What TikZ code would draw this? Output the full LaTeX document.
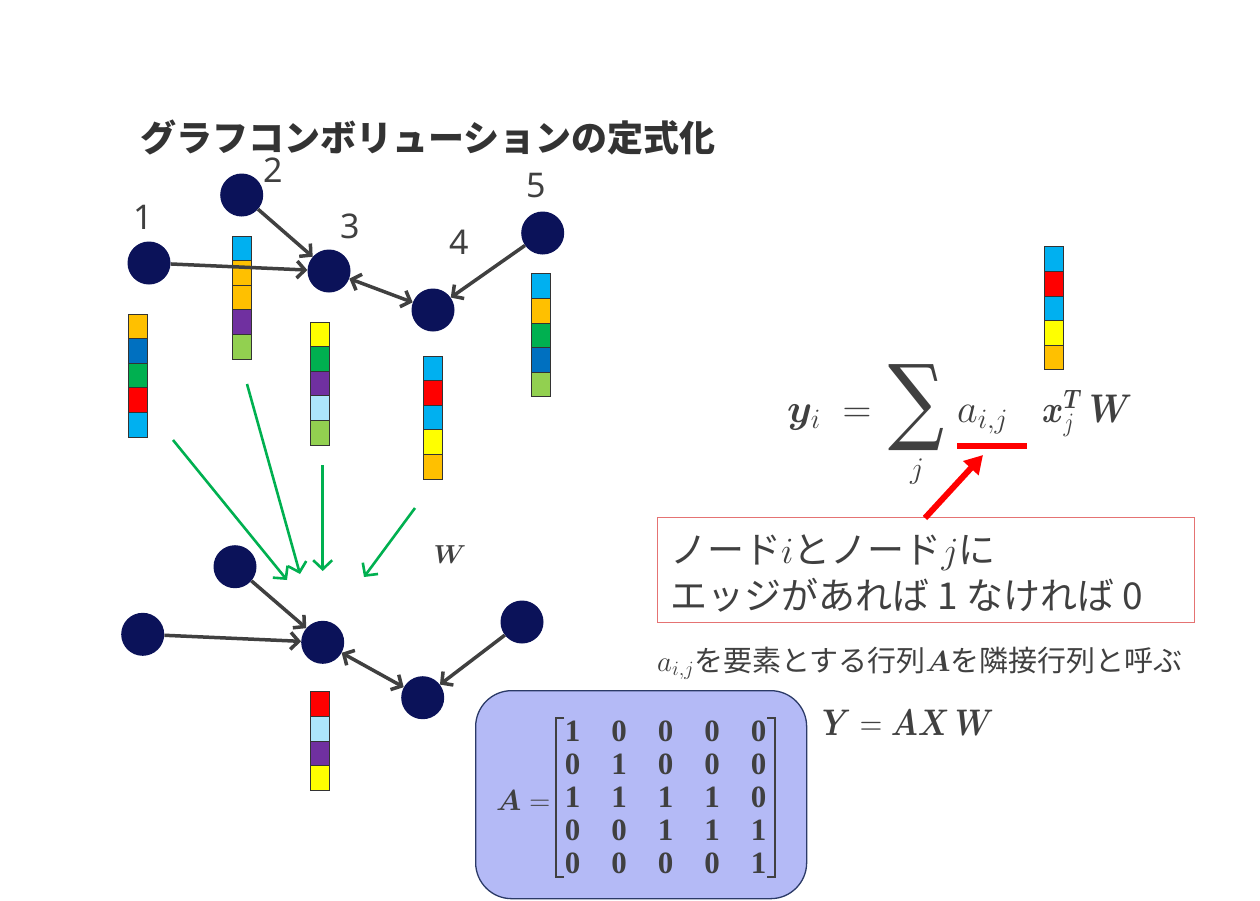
\RequirePackage{fix-cm}
\documentclass[tikz,border=0pt]{standalone}
\usepackage{amsmath,bm}
\usepackage{graphicx}
\usepackage{fontspec}
\newfontfamily\jp{Noto Sans CJK JP}
\newfontfamily\nsans{Noto Sans}
\newfontfamily\lserif{Liberation Serif}
\newfontfamily\dserif{DejaVu Serif}
\usetikzlibrary{arrows.meta}

\definecolor{navy}{HTML}{0B1259}
\definecolor{edgegray}{HTML}{404040}
\definecolor{titlegray}{HTML}{333333}
\definecolor{boxred}{HTML}{E57373}
\definecolor{arrowgreen}{HTML}{00B050}
\definecolor{matfill}{HTML}{B4BAF6}
\definecolor{matborder}{HTML}{2B3A67}
\definecolor{ccyan}{HTML}{00B0F0}
\definecolor{corange}{HTML}{FFC000}
\definecolor{cdblue}{HTML}{0070C0}
\definecolor{cgreen}{HTML}{00B050}
\definecolor{cred}{HTML}{FF0000}
\definecolor{cpurple}{HTML}{7030A0}
\definecolor{clgreen}{HTML}{92D050}
\definecolor{cyellow}{HTML}{FFFF00}
\definecolor{clblue}{HTML}{ADE6FB}

\tikzset{
  gnode/.style={circle, fill=navy, minimum size=43pt, inner sep=0pt},
  gedge/.style={draw=edgegray, line width=3.5pt, -{Straight Barb[length=8pt,width=17pt]}},
  gboth/.style={draw=edgegray, line width=3.5pt, {Straight Barb[length=8pt,width=17pt]}-{Straight Barb[length=8pt,width=17pt]}},
  garrow/.style={draw=arrowgreen, line width=2.6pt, -{Straight Barb[length=9pt,width=19pt]}},
  cell/.style={draw=black!80, line width=0.8pt},
  lbl/.style={font=\nsans\fontsize{34}{34}\selectfont, text=edgegray, inner sep=0pt},
  ftxt/.style={text=edgegray, inner sep=0pt, font=\fontsize{40}{40}\selectfont},
  mentry/.style={text=edgegray, inner sep=0pt, font=\lserif\bfseries\fontsize{31}{31}\selectfont},
  bracket/.style={draw=edgegray, line width=1.8pt},
}

\newcommand\featvec[3]{%
  \foreach \c [count=\k from 0] in {#3} {
    \draw[cell, fill=\c] ({#1},{#2+\k*24.6}) rectangle ++(19,24.6);
  }%
}

\begin{document}
\begin{tikzpicture}[x=1pt,y=-1pt]
\useasboundingbox (0,0) rectangle (1260,900);
\fill[white] (0,0) rectangle (1260,900);

% title
\node[anchor=west, font=\jp\bfseries\fontsize{36}{36}\selectfont, text=titlegray, inner sep=0pt] (title) at (140,138) {グラフコンボリューションの定式化};

% feature vectors (top graph)
\featvec{128.7}{314}{corange,cdblue,cgreen,cred,ccyan}
\featvec{232.7}{236}{ccyan,corange,corange,cpurple,clgreen}
\featvec{310.3}{322}{cyellow,cgreen,cpurple,clblue,clgreen}
\featvec{423}{356}{ccyan,cred,ccyan,cyellow,corange}
\featvec{531}{273.7}{ccyan,corange,cgreen,cdblue,clgreen}
% top-right vector
\featvec{1044.3}{246.7}{ccyan,cred,ccyan,cyellow,corange}
% bottom vector
\featvec{310}{691.7}{cred,clblue,cpurple,cyellow}

% top graph
\node[gnode] (n1) at (149,263) {};
\node[gnode] (n2) at (241.7,195) {};
\node[gnode] (n3) at (329,271) {};
\node[gnode] (n4) at (433,310) {};
\node[gnode] (n5) at (542.7,233) {};
\node[lbl] (l1) at (143,217) {1};
\node[lbl] (l2) at (273,170) {2};
\node[lbl] (l3) at (350,226) {3};
\node[lbl] (l4) at (459,242) {4};
\node[lbl] (l5) at (536,186) {5};
\draw[gedge] (n1) -- (n3);
\draw[gedge] (n2) -- (n3);
\draw[gboth] (n3) -- (n4);
\draw[gedge] (n5) -- (n4);

% green arrows
\coordinate (g1s) at (173,440);   \coordinate (g1e) at (287,580);
\coordinate (g2s) at (247,384);   \coordinate (g2e) at (300,574);
\coordinate (g3s) at (322.7,465); \coordinate (g3e) at (322.7,571);
\coordinate (g4s) at (415,508);   \coordinate (g4e) at (364,577);
\draw[garrow] (g1s) -- (g1e);
\draw[garrow] (g2s) -- (g2e);
\draw[garrow] (g3s) -- (g3e);
\draw[garrow] (g4s) -- (g4e);
\node[text=edgegray, inner sep=0pt, font=\fontsize{26}{26}\selectfont] (wl) at (450,555) {$\bm{W}$};

% bottom graph
\node[gnode] (m1) at (142.7,634.3) {};
\node[gnode] (m2) at (235,566.7) {};
\node[gnode] (m3) at (322.7,642.3) {};
\node[gnode] (m4) at (422.7,697.7) {};
\node[gnode] (m5) at (522,622) {};
\draw[gedge] (m1) -- (m3);
\draw[gedge] (m2) -- (m3);
\draw[gboth] (m3) -- (m4);
\draw[gedge] (m5) -- (m4);

% formula
\node[ftxt, anchor=base west] (fy) at (787,422) {$\bm{y}_i$};
\node[ftxt, anchor=base] (feq) at (857,422) {$=$};
\node[text=edgegray, inner sep=0pt] (fsum) at (916,408) {\resizebox*{56pt}{86pt}{\dserif ∑}};
\node[text=edgegray, inner sep=0pt, font=\fontsize{30}{30}\selectfont] (fj) at (917,472) {$j$};
\node[ftxt, anchor=base west] (fa) at (957,422) {$a_{i,j}$};
\node[text=edgegray, inner sep=0pt, anchor=base west] (fx) at (1042,422) {\scalebox{0.85}[1]{\fontsize{38}{38}\selectfont$\bm{x}_j^{\bm{T}}$}};
\node[text=edgegray, inner sep=0pt, anchor=base west] (fw) at (1089,422) {\scalebox{0.86}[1]{\fontsize{40}{40}\selectfont$\bm{W}$}};
\node[fill=red, minimum width=70pt, minimum height=6pt, inner sep=0pt] (uline) at (992,446) {};

% explanation box
\node[draw=boxred, line width=1.2pt, minimum width=537pt, minimum height=105pt, anchor=north west, inner sep=0pt] (box) at (657,517) {};
\node[anchor=base west, font=\jp\fontsize{37}{37}\selectfont, text=edgegray, inner sep=0pt] (t1) at (670,563) {ノード$i$とノード$j$に};
\node[anchor=base west, font=\jp\fontsize{37}{37}\selectfont, text=edgegray, inner sep=0pt] (t2) at (670,609) {エッジがあれば 1 なければ 0};
\coordinate (rs) at (925,518);
\coordinate (rt) at (983,455);
\draw[red, line width=6pt, -{Triangle[length=18pt,width=20pt]}] (rs) -- (rt);

\node[anchor=base west, font=\jp\fontsize{29}{29}\selectfont, text=edgegray, inner sep=0pt] (cap) at (657,671) {$a_{i,j}$を要素とする行列$\bm{A}$を隣接行列と呼ぶ};

% matrix box
\node[draw=matborder, fill=matfill, line width=1.3pt, rounded corners=36pt, minimum width=331pt, minimum height=208pt, anchor=north west, inner sep=0pt] (mbox) at (475,690) {};
\node[anchor=base west, text=edgegray, inner sep=0pt, font=\fontsize{29}{29}\selectfont] (aeq) at (496,810) {$\bm{A} =$};
\draw[bracket] (564,718) -- (556,718) -- (556,877) -- (564,877);
\draw[bracket] (767,718) -- (775,718) -- (775,877) -- (767,877);
\foreach \row [count=\r] in {{1,0,0,0,0},{0,1,0,0,0},{1,1,1,1,0},{0,0,1,1,1},{0,0,0,0,1}} {
  \foreach \v [count=\c] in \row {
    \node[mentry] (a\r\c) at ({526+46.5*\c},{698+33*\r}) {\v};
  }
}

\node[text=edgegray, inner sep=0pt, anchor=base west] (yax) at (822,735) {\scalebox{0.84}[1]{\fontsize{37}{37}\selectfont$\bm{Y} = \bm{AX}\,\bm{W}$}};
\end{tikzpicture}
\end{document}
